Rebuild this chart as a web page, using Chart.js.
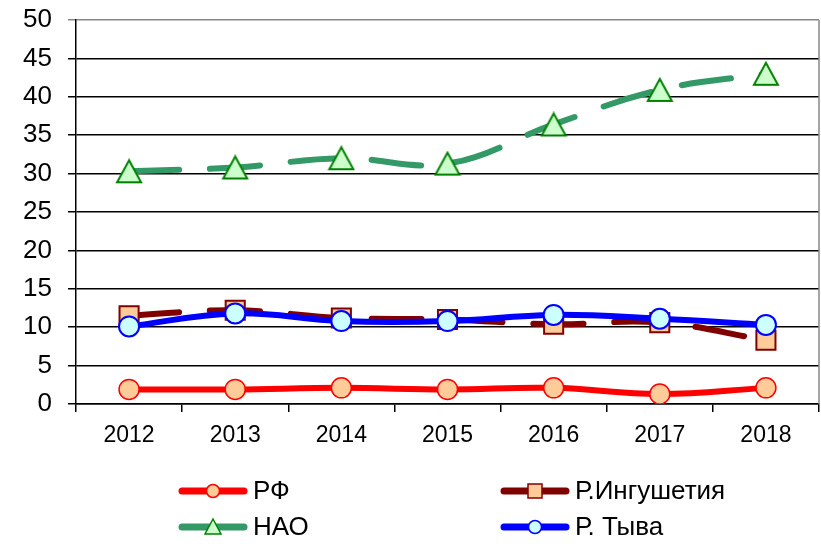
<!DOCTYPE html>
<html>
<head>
<meta charset="utf-8">
<script src="https://cdn.jsdelivr.net/npm/chart.js@4.4.0/dist/chart.umd.min.js"></script>
<style>
  body { margin: 0; background: #fff; }
  #chart { display: block; }
</style>
</head>
<body>
<canvas id="chart" width="821" height="544"></canvas>
<script>
const years = ['2012', '2013', '2014', '2015', '2016', '2017', '2018'];
const rfValues = [1.9, 1.9, 2.1, 1.9, 2.1, 1.3, 2.1];
const ingushValues = [11.5, 12.2, 11.2, 11.0, 10.4, 10.6, 8.3];
const naoValues = [30.3, 30.8, 32.0, 31.3, 36.4, 40.9, 43.0];
const tyvaValues = [10.1, 11.8, 10.8, 10.8, 11.6, 11.1, 10.3];
const seriesNames = ['РФ', 'Р.Ингушетия', 'НАО', 'Р. Тыва'];

const FONT = '"Liberation Sans", Arial, sans-serif';

// triangle marker centred on its bounding box, like the excel one
function makeTriangle(w, h, fill, stroke) {
  const c = document.createElement('canvas');
  c.width = w + 4;
  c.height = h + 4;
  const g = c.getContext('2d');
  g.beginPath();
  g.moveTo(c.width / 2, 2);
  g.lineTo(c.width - 2, h + 2);
  g.lineTo(2, h + 2);
  g.closePath();
  g.fillStyle = fill;
  g.fill();
  g.lineWidth = 2;
  g.strokeStyle = stroke;
  g.stroke();
  return c;
}
const triangleMarker = makeTriangle(24, 22, '#CCFFCC', '#008000');

const legendPlugin = {
  id: 'sideLegend',
  afterDraw(chart) {
    const ctx = chart.ctx;
    const area = chart.chartArea;
    ctx.save();
    // grey plot border on the right
    ctx.strokeStyle = '#888888';
    ctx.lineWidth = 1.5;
    ctx.beginPath();
    ctx.moveTo(area.right, area.top);
    ctx.lineTo(area.right, area.bottom);
    ctx.stroke();

    const cols = [182, 504];
    const rows = [491, 527];
    ctx.font = '26px ' + FONT;
    ctx.textBaseline = 'middle';
    ctx.textAlign = 'left';
    chart.data.datasets.forEach((ds, i) => {
      const x = cols[i % 2];
      const y = rows[Math.floor(i / 2)];
      const len = 62;
      ctx.strokeStyle = ds.borderColor;
      ctx.lineWidth = 7;
      ctx.lineCap = 'round';
      ctx.beginPath();
      ctx.moveTo(x, y);
      ctx.lineTo(x + len, y);
      ctx.stroke();
      const mx = x + len / 2;
      ctx.fillStyle = ds.pointBackgroundColor;
      ctx.strokeStyle = ds.legendMarkerStroke;
      ctx.lineWidth = 1.5;
      ctx.beginPath();
      if (ds.legendMarker === 'circle') {
        ctx.arc(mx, y, 6.5, 0, Math.PI * 2);
      } else if (ds.legendMarker === 'rect') {
        ctx.rect(mx - 7, y - 7, 14, 14);
      } else {
        ctx.moveTo(mx, y - 8);
        ctx.lineTo(mx + 8, y + 7);
        ctx.lineTo(mx - 8, y + 7);
        ctx.closePath();
      }
      ctx.fill();
      ctx.stroke();
      ctx.fillStyle = '#000';
      ctx.fillText(ds.label, x + len + 9, y + 1);
    });
    ctx.restore();
  }
};

const config = {
  type: 'line',
  data: {
    labels: years,
    datasets: [
      {
        label: seriesNames[0],
        data: rfValues,
        borderColor: '#FF0000',
        borderWidth: 6,
        pointStyle: 'circle',
        pointRadius: 10,
        pointBackgroundColor: '#FFCC99',
        pointBorderColor: '#FF0000',
        pointBorderWidth: 1.5,
        legendMarker: 'circle',
        legendMarkerStroke: '#FF0000',
        order: 4
      },
      {
        label: seriesNames[1],
        data: ingushValues,
        borderColor: '#800000',
        borderWidth: 6,
        borderDash: [50, 31],
        borderCapStyle: 'round',
        pointStyle: 'rect',
        pointRadius: 13.5,
        pointBackgroundColor: '#FFCC99',
        pointBorderColor: '#800000',
        pointBorderWidth: 2,
        legendMarker: 'rect',
        legendMarkerStroke: '#800000',
        order: 3
      },
      {
        label: seriesNames[2],
        data: naoValues,
        borderColor: '#339966',
        borderWidth: 6,
        borderDash: [50, 31],
        borderCapStyle: 'round',
        pointStyle: triangleMarker,
        pointRadius: 12,
        pointBackgroundColor: '#CCFFCC',
        pointBorderColor: '#008000',
        legendMarker: 'triangle',
        legendMarkerStroke: '#008000',
        order: 2
      },
      {
        label: seriesNames[3],
        data: tyvaValues,
        borderColor: '#0000FF',
        borderWidth: 6,
        pointStyle: 'circle',
        pointRadius: 10,
        pointBackgroundColor: '#CCFFFF',
        pointBorderColor: '#0000FF',
        pointBorderWidth: 2,
        legendMarker: 'circle',
        legendMarkerStroke: '#0000FF',
        order: 1
      }
    ]
  },
  options: {
    responsive: false,
    animation: false,
    devicePixelRatio: 1,
    elements: {
      line: { tension: 0.4 },
      point: { hoverRadius: 10 }
    },
    layout: {
      autoPadding: false,
      padding: { top: 20, left: 0, right: 2, bottom: 0 }
    },
    plugins: {
      legend: { display: false },
      tooltip: { enabled: false }
    },
    scales: {
      x: {
        offset: true,
        grid: {
          offset: true,
          drawOnChartArea: false,
          drawTicks: true,
          tickLength: 8,
          color: '#000',
          lineWidth: 1.5
        },
        border: { color: '#000', width: 1.5 },
        ticks: {
          color: '#000',
          font: { family: FONT, size: 23 },
          padding: 10,
          maxRotation: 0
        },
        afterFit(scale) {
          scale.height = 140;
          scale.paddingLeft = 0;
          scale.paddingRight = 0;
        }
      },
      y: {
        min: 0,
        max: 50,
        grid: {
          color: ctx => ctx.tick && ctx.tick.value === 50 ? '#888888' : '#000',
          lineWidth: 1.5,
          tickLength: 8
        },
        border: { color: '#000', width: 1.5 },
        ticks: {
          stepSize: 5,
          color: '#000',
          font: { family: FONT, size: 26 },
          padding: 16
        },
        afterFit(scale) {
          scale.width = 76;
          scale.paddingTop = 0;
          scale.paddingBottom = 0;
        }
      }
    }
  },
  plugins: [legendPlugin]
};

document.addEventListener('DOMContentLoaded', function () {
  new Chart(document.getElementById('chart').getContext('2d'), config);
});
</script>
</body>
</html>
